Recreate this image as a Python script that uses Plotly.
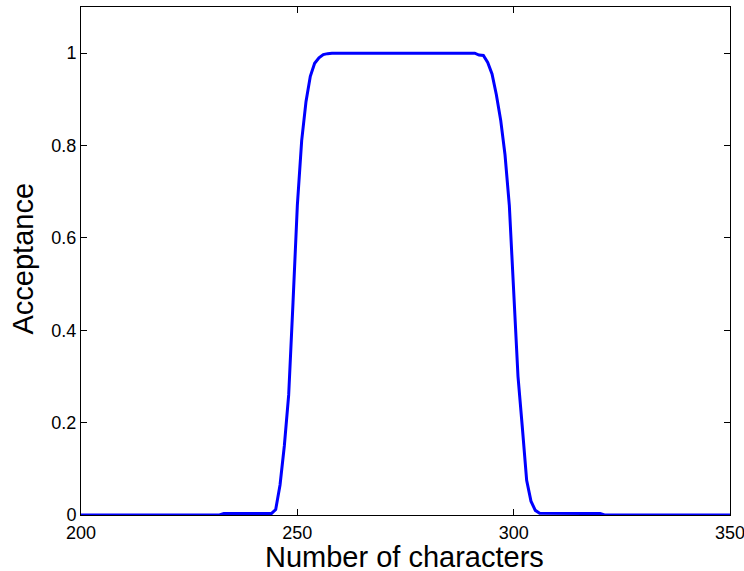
import plotly.graph_objects as go

num_chars = [200, 232, 233, 244, 245, 246, 247, 248, 249, 250, 251, 252, 253, 254,
             255, 256, 257, 258, 291, 292, 293, 294, 295, 296, 297, 298, 299, 300,
             301, 302, 303, 304, 305, 306, 320, 321, 350]
acceptance = [0, 0, 0.003, 0.003, 0.012, 0.065, 0.15, 0.26, 0.46, 0.67, 0.81, 0.895,
              0.95, 0.978, 0.99, 0.997, 0.999, 1.0, 1.0, 0.996, 0.995, 0.98, 0.955,
              0.91, 0.855, 0.78, 0.67, 0.48, 0.3, 0.19, 0.075, 0.03, 0.01, 0.004,
              0.003, 0, 0]

x_ticks = [200, 250, 300, 350]
y_ticks = [0, 0.2, 0.4, 0.6, 0.8, 1]
y_tick_labels = ["0", "0.2", "0.4", "0.6", "0.8", "1"]

fig = go.Figure()
fig.add_trace(go.Scatter(x=num_chars, y=acceptance, mode="lines",
                         line=dict(color="#0000FF", width=3)))

font_family = "Liberation Sans, Arial, sans-serif"
fig.update_layout(
    width=744, height=571,
    margin=dict(l=81, r=14, t=7, b=56),
    paper_bgcolor="white", plot_bgcolor="white",
    showlegend=False,
    font=dict(family=font_family, color="black"),
    annotations=[
        dict(text="Number of characters", xref="paper", yref="paper",
             x=(404 - 81) / 649, y=(515 - 557) / 508, xanchor="center", yanchor="middle",
             showarrow=False, font=dict(size=29)),
        dict(text="Acceptance", xref="paper", yref="paper", textangle=-90,
             x=(22.5 - 81) / 649, y=(515 - 259) / 508, xanchor="center", yanchor="middle",
             showarrow=False, font=dict(size=29)),
    ],
)
fig.update_xaxes(
    range=[200, 350], tickvals=x_ticks, ticks="inside", ticklen=6, tickcolor="black",
    showline=True, linecolor="black", linewidth=1, mirror="ticks",
    showgrid=False, zeroline=False, tickfont=dict(size=18), automargin=False,
    ticklabeloverflow="allow", ticklabelstandoff=1,
)
fig.update_yaxes(
    range=[0, 1.1], tickvals=y_ticks, ticktext=y_tick_labels, ticks="inside",
    ticklen=6, tickcolor="black",
    showline=True, linecolor="black", linewidth=1, mirror="ticks",
    showgrid=False, zeroline=False, tickfont=dict(size=18), automargin=False,
    ticklabeloverflow="allow",
)
fig.write_html("out.html", config={"displayModeBar": False},
               post_script="document.body.style.margin='0';document.body.style.overflow='hidden';")
